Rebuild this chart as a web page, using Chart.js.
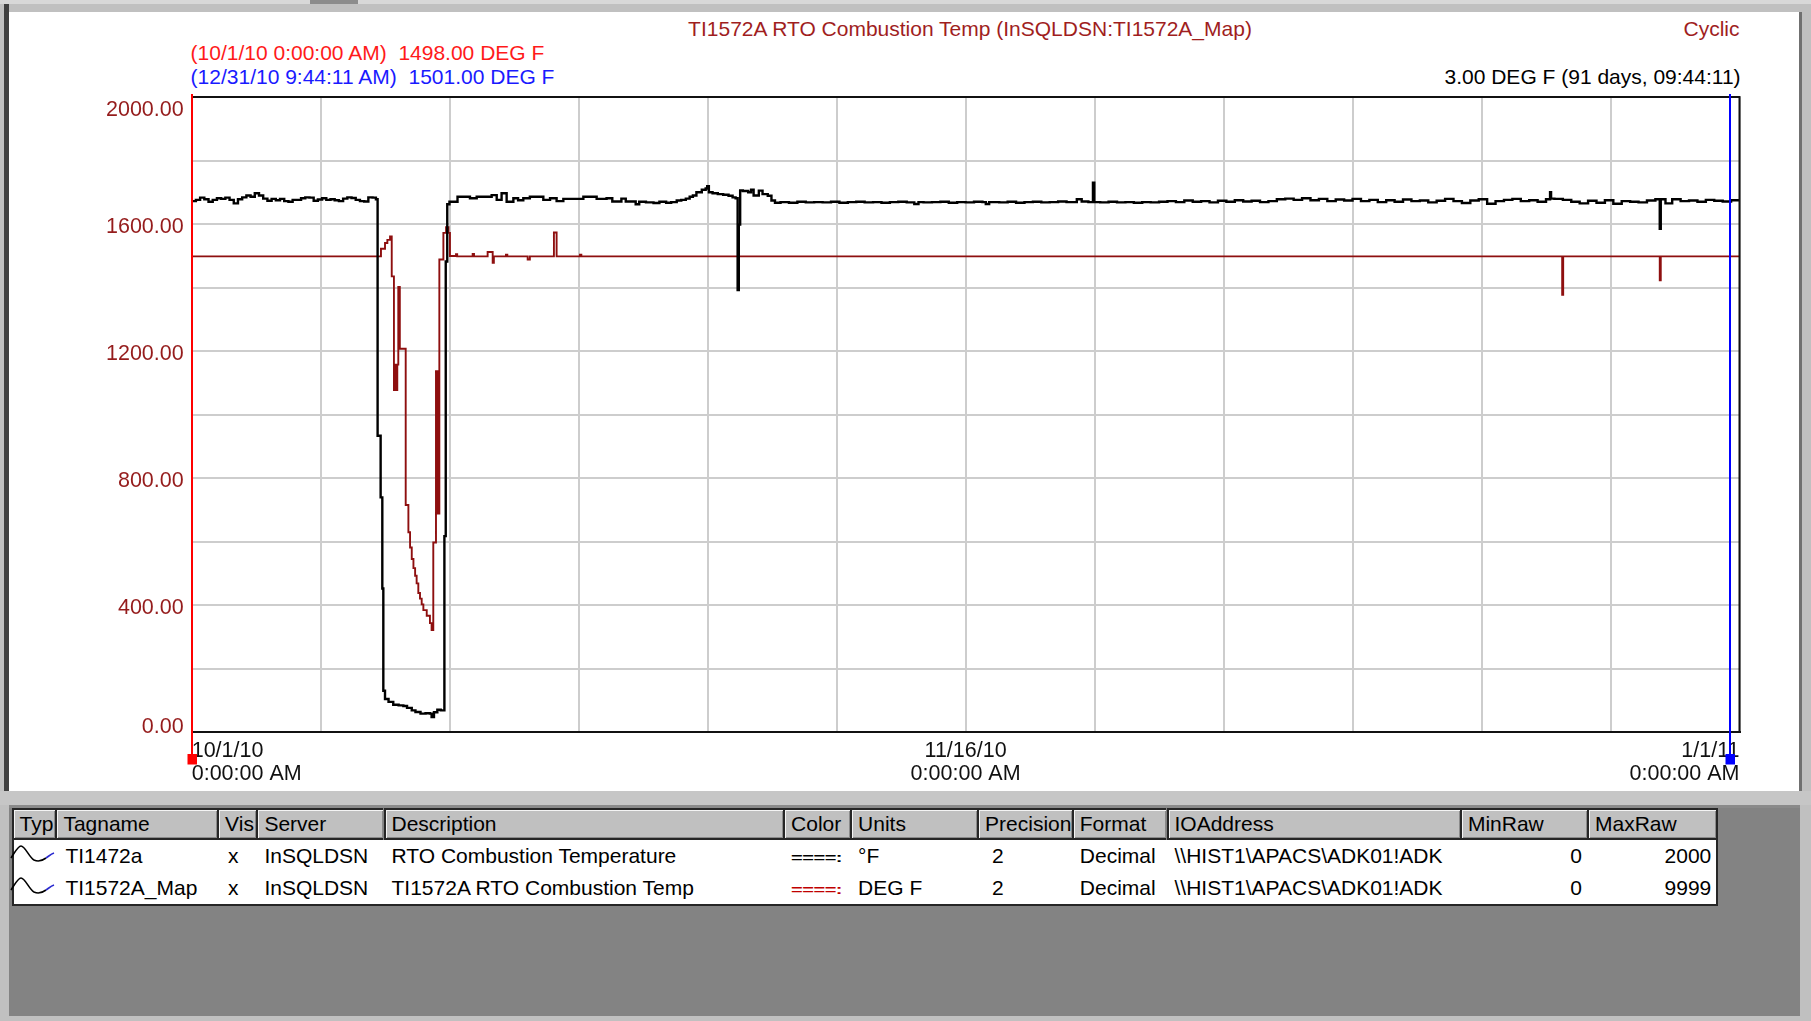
<!DOCTYPE html>
<html>
<head>
<meta charset="utf-8">
<script src="https://cdn.jsdelivr.net/npm/chart.js@4.4.1/dist/chart.umd.min.js"></script>
<style>
html,body{margin:0;padding:0;}
body{width:1811px;height:1021px;overflow:hidden;background:#c0c0c0;position:relative;font-family:"Liberation Sans",Arial,sans-serif;}
.abs{position:absolute;}
#topstrip{left:0;top:0;width:1811px;height:4px;background:#d8d8d8;}
#tab1{left:310px;top:0;width:48px;height:4px;background:#8c8c8c;}
#panel{left:9px;top:12px;width:1790px;height:779px;background:#fff;}
#leftdark{left:4px;top:4px;width:5px;height:787px;background:#404040;}
#rightdark{left:1799px;top:12px;width:3px;height:779px;background:#707070;}
#sep{left:0;top:791px;width:1811px;height:14px;background:#c6c6c6;}
#sepline{left:9px;top:805px;width:1791px;height:3px;background:#8a8a8a;}
#lower{left:9px;top:808px;width:1791px;height:208px;background:#838383;}
.txt{position:absolute;font-size:21px;line-height:24px;white-space:pre;}
.cell{position:absolute;box-sizing:border-box;font-size:21px;white-space:nowrap;overflow:hidden;color:#000;}
.hd{background:#c0c0c0;border-top:2px solid #262626;border-left:2px solid #262626;border-bottom:2px solid #262626;height:32px;line-height:28px;padding-left:6px;box-shadow:inset 1px 1px 0 #f4f4f4, inset -1px -1px 0 #8a8a8a;}
.rw{height:32px;line-height:32px;padding-left:8px;}
.sw{display:inline-block;font-weight:bold;font-size:20px;letter-spacing:-0.5px;transform:scaleY(0.62);transform-origin:50% 60%;}
#canvasWrap{position:absolute;left:0;top:0;width:1811px;height:1021px;}
</style>
</head>
<body>
<div class="abs" id="topstrip"></div>
<div class="abs" id="tab1"></div>
<div class="abs" id="leftdark"></div>
<div class="abs" id="panel"></div>
<div class="abs" id="rightdark"></div>
<div class="abs" id="sep"></div>
<div class="abs" id="sepline"></div>
<div class="abs" id="lower"></div>

<div class="txt" style="left:970px;top:17px;transform:translateX(-50%);color:#a01e1e;">TI1572A RTO Combustion Temp (InSQLDSN:TI1572A_Map)</div>
<div class="txt" style="right:71.5px;top:17px;color:#a01e1e;">Cyclic</div>
<div class="txt" style="left:190.6px;top:41px;color:#ff1a1a;">(10/1/10 0:00:00 AM)  1498.00 DEG F</div>
<div class="txt" style="left:190.6px;top:65.4px;color:#1a1aff;">(12/31/10 9:44:11 AM)  1501.00 DEG F</div>
<div class="txt" style="right:70.4px;top:65.4px;color:#000;">3.00 DEG F (91 days, 09:44:11)</div>

<div id="table"></div>

<div id="canvasWrap"><canvas id="c" width="1811" height="1021"></canvas></div>

<script>
// ---------------- DATA (days since 10/1/10 0:00:00 AM, degrees F) ----------------
const blackDays = [
  0, 0.25, 0.5, 0.75, 1, 1.25, 1.5, 1.75, 2, 2.25,
  2.5, 2.75, 3, 3.25, 3.5, 3.75, 4, 4.25, 4.5, 4.75,
  5, 5.25, 5.5, 5.75, 6, 6.25, 6.5, 6.75, 7, 7.25,
  7.5, 7.75, 8, 8.25, 8.5, 8.75, 9, 9.25, 9.5, 9.75,
  10, 10.25, 10.5, 10.75, 10.95, 11.05, 11.23, 11.33, 11.39, 11.49,
  11.7, 11.98, 12.3, 12.58, 12.8, 13.08, 13.3, 13.6, 13.9, 14.16,
  14.26, 14.4, 14.6, 14.8, 15.02, 15.1, 15.19, 15.32, 15.8, 16.15,
  16.54, 16.94, 17.53, 17.83, 18.13, 18.42, 18.72, 19.12, 19.4, 19.71,
  20.1, 20.5, 20.9, 21.3, 21.69, 22.09, 22.88, 23.28, 24.07, 24.66,
  25, 25.54, 25.8, 26.39, 26.6, 27, 27.45, 27.8, 28.2, 28.5,
  28.83, 29.1, 29.37, 29.6, 29.79, 30, 30.32, 30.55, 30.64, 30.74,
  30.96, 31.27, 31.59, 31.91, 32.15, 32.33, 32.45, 32.52, 32.6, 32.76,
  33.08, 33.25, 33.4, 33.71, 33.93, 34.24, 34.46, 34.67, 35, 35.5,
  36, 36.5, 37, 37.5, 38, 38.5, 39, 39.5, 40, 40.5,
  41, 41.5, 42, 42.5, 42.95, 43.2, 43.5, 44, 44.5, 45,
  45.5, 46, 46.5, 47, 47.2, 47.4, 48, 48.5, 49, 49.5,
  50, 50.5, 51, 51.5, 52, 52.61, 52.9, 53.3, 53.57, 53.65,
  54, 54.5, 55, 55.5, 56, 56.5, 57, 57.5, 58, 58.5,
  59, 59.5, 60, 60.5, 61, 61.5, 62, 62.5, 63, 63.5,
  64, 64.5, 65, 65.5, 66, 66.5, 67, 67.5, 68, 68.5,
  69, 69.5, 70, 70.5, 71, 71.5, 72, 72.5, 73, 73.5,
  74, 74.5, 75, 75.5, 76, 76.5, 77, 77.5, 78, 78.5,
  79, 79.5, 80, 80.5, 80.74, 80.8, 81, 81.5, 82, 82.5,
  83, 83.5, 84, 84.5, 85, 85.5, 86, 86.5, 87, 87.26,
  87.32, 87.6, 88, 88.5, 89, 89.5, 90, 90.5, 91, 91.5,
  92
];
const blackTemps = [
  1672, 1676, 1683, 1678, 1670, 1676, 1681, 1679, 1683, 1676,
  1665, 1678, 1684, 1690, 1686, 1697, 1690, 1680, 1673, 1679,
  1675, 1679, 1672, 1670, 1676, 1676, 1681, 1684, 1683, 1673,
  1677, 1681, 1676, 1678, 1675, 1672, 1680, 1684, 1682, 1676,
  1672, 1671, 1684, 1683, 1678, 933, 739, 452, 130, 104,
  95, 86, 84, 82, 76, 68, 63, 58, 59, 58,
  47, 62, 70, 68, 617, 1482, 1662, 1670, 1686, 1686,
  1681, 1686, 1686, 1691, 1676, 1697, 1670, 1681, 1675, 1681,
  1686, 1686, 1676, 1681, 1672, 1679, 1679, 1686, 1679, 1681,
  1671, 1680, 1671, 1662, 1670, 1668, 1666, 1670, 1667, 1669,
  1674, 1676, 1680, 1686, 1690, 1700, 1708, 1712, 1719, 1700,
  1697, 1694, 1692, 1689, 1684, 1681, 1392, 1598, 1706, 1704,
  1700, 1708, 1690, 1705, 1694, 1689, 1674, 1667, 1669, 1667,
  1670, 1668, 1669, 1668, 1670, 1667, 1669, 1670, 1668, 1669,
  1667, 1669, 1670, 1668, 1663, 1669, 1668, 1669, 1670, 1667,
  1669, 1668, 1670, 1669, 1663, 1669, 1668, 1670, 1667, 1669,
  1670, 1668, 1669, 1671, 1669, 1678, 1671, 1669, 1730, 1669,
  1668, 1670, 1668, 1669, 1667, 1669, 1668, 1670, 1672, 1669,
  1674, 1670, 1672, 1668, 1673, 1670, 1675, 1671, 1673, 1669,
  1672, 1678, 1680, 1676, 1681, 1675, 1679, 1672, 1677, 1674,
  1679, 1672, 1676, 1669, 1675, 1670, 1677, 1672, 1674, 1668,
  1673, 1679, 1672, 1666, 1674, 1678, 1664, 1672, 1676, 1679,
  1672, 1675, 1670, 1678, 1700, 1680, 1679, 1676, 1670, 1665,
  1673, 1667, 1675, 1664, 1672, 1670, 1668, 1674, 1678, 1585,
  1678, 1665, 1678, 1672, 1674, 1670, 1676, 1673, 1671, 1675,
  1672
];
const redDays = [
  0, 11.2, 11.25, 11.49, 11.63, 11.79, 11.89, 12.02, 12.08, 12.14,
  12.22, 12.28, 12.31, 12.34, 12.37, 12.72, 12.88, 12.98, 13.08, 13.18,
  13.28, 13.37, 13.47, 13.57, 13.67, 13.77, 13.97, 14.16, 14.26, 14.36,
  14.52, 14.55, 14.58, 14.62, 14.65, 14.68, 14.72, 14.96, 15.12, 15.26,
  15.35, 15.71, 15.78, 16.7, 16.78, 17.59, 17.89, 17.96, 18.68, 18.76,
  19.97, 20.1, 21.53, 21.69, 23.08, 23.16, 81.46, 81.52, 87.26, 87.32,
  92
];
const redTemps = [
  1498, 1498, 1522, 1540, 1550, 1561, 1435, 1077, 1157, 1077,
  1157, 1402, 1207, 1402, 1207, 715, 629, 581, 545, 516,
  492, 468, 438, 420, 402, 384, 366, 343, 321, 597,
  1136, 688, 1136, 688, 1136, 688, 1488, 1572, 1590, 1572,
  1499, 1505, 1498, 1506, 1498, 1512, 1478, 1498, 1503, 1498,
  1488, 1498, 1573, 1498, 1503, 1498, 1377, 1498, 1423, 1498,
  1501
];
const seriesNames = ['TI1472a', 'TI1572A_Map'];
const cursorDays = [0, 91.406];           // 10/1/10 0:00:00 AM and 12/31/10 9:44:11 AM
const xSpanDays = 92;
const xGridDivisions = 12;
const xLabelDays = [0, 46, 92];
const xTickLabels = [['10/1/10', '0:00:00 AM'], ['11/16/10', '0:00:00 AM'], ['1/1/11', '0:00:00 AM']];
const yMin = 0, yMax = 2000, yGridStep = 200, yLabelStep = 400;

// ---------------- TABLE (tag list) ----------------
const colEdges = [11.5, 55.4, 217.1, 256.4, 383.5, 783.1, 850.1, 977.1, 1071.8, 1166.5, 1459.9, 1587, 1716.3];
const headers = ['Typ', 'Tagname', 'Vis', 'Server', 'Description', 'Color', 'Units', 'Precision', 'Format', 'IOAddress', 'MinRaw', 'MaxRaw'];
const rows = [
  ['', 'TI1472a', 'x', 'InSQLDSN', 'RTO Combustion Temperature', '====:', '\u00B0F', '2', 'Decimal', '\\\\HIST1\\APACS\\ADK01!ADK', '0', '2000'],
  ['', 'TI1572A_Map', 'x', 'InSQLDSN', 'TI1572A RTO Combustion Temp', '====:', 'DEG F', '2', 'Decimal', '\\\\HIST1\\APACS\\ADK01!ADK', '0', '9999']
];
const colorSwatch = ['#000000', '#c00000'];
(function buildTable() {
  const t = document.getElementById('table');
  const top0 = 808, rowH = 32;
  headers.forEach((h, i) => {
    const d = document.createElement('div');
    d.className = 'cell hd';
    d.style.left = colEdges[i] + 'px';
    d.style.top = top0 + 'px';
    d.style.width = (colEdges[i + 1] - colEdges[i]) + 'px';
    d.textContent = h;
    t.appendChild(d);
  });
  const body = document.createElement('div');
  body.style.cssText = 'position:absolute;left:' + colEdges[0] + 'px;top:' + (top0 + rowH) + 'px;width:' +
    (colEdges[colEdges.length - 1] - colEdges[0] + 2) + 'px;height:' + (rowH * 2 + 2) +
    'px;background:#fff;box-sizing:border-box;border-left:2px solid #262626;border-right:2px solid #262626;border-bottom:2px solid #262626;';
  t.appendChild(body);
  const rightHdr = document.createElement('div');
  rightHdr.style.cssText = 'position:absolute;left:' + colEdges[colEdges.length - 1] + 'px;top:' + top0 + 'px;width:2px;height:' + rowH + 'px;background:#262626;';
  t.appendChild(rightHdr);
  rows.forEach((r, ri) => {
    r.forEach((v, i) => {
      const d = document.createElement('div');
      d.className = 'cell rw';
      const w = colEdges[i + 1] - colEdges[i];
      d.style.left = colEdges[i] + 'px';
      d.style.top = (top0 + rowH * (ri + 1)) + 'px';
      d.style.width = w + 'px';
      if (i === 0) {
        d.style.overflow = 'visible';
        d.style.paddingLeft = '0px';
        d.innerHTML = '<svg width="48" height="32" style="position:absolute;left:-2px;top:0"><path d="M1 18 C 5 12, 8 6, 11 6 C 15 6, 19 17, 24 20 C 28 22, 32 21, 36 18" stroke="#000" stroke-width="1.6" fill="none"/><path d="M36 18 C 39 16, 41 14, 44 13" stroke="#2a2ad0" stroke-width="1.6" fill="none"/></svg>';
      } else if (i === 5) {
        const s = document.createElement('span');
        s.className = 'sw';
        s.style.color = colorSwatch[ri];
        s.textContent = v;
        d.appendChild(s);
      } else {
        d.textContent = v;
      }
      if (i === 1) d.style.paddingLeft = '10px';
      if (i === 2) d.style.paddingLeft = '11px';
      if (i === 7) d.style.paddingLeft = '15px';
      if (i === 10 || i === 11) { d.style.textAlign = 'right'; d.style.paddingLeft = '0'; d.style.paddingRight = '5px'; }
      t.appendChild(d);
    });
  });
})();

// ---------------- CHART ----------------
Chart.defaults.font.family = '"Liberation Sans", Arial, sans-serif';

const frameAndCursors = {
  id: 'frameAndCursors',
  beforeDraw(chart) {
    // nudge y labels as in the reference and keep the extreme ones inside the plot band
    const s = chart.scales.y, a = chart.chartArea;
    if (!s || typeof s.getLabelItems !== 'function') return;
    try {
      const items = s.getLabelItems(a);
      items.forEach(it => {
        const tr = it && it.options && it.options.translation;
        if (!tr) return;
        tr[1] += 2.8;
        if (tr[1] < a.top + 13.5) tr[1] = a.top + 13.5;
        if (tr[1] > a.bottom - 4.5) tr[1] = a.bottom - 4.5;
      });
    } catch (e) {}
  },
  afterDatasetsDraw(chart) {
    const ctx = chart.ctx, a = chart.chartArea, xs = chart.scales.x;
    ctx.save();
    ctx.strokeStyle = '#111';
    ctx.lineWidth = 2;
    ctx.beginPath();
    ctx.moveTo(a.left, a.top);
    ctx.lineTo(a.right, a.top);
    ctx.lineTo(a.right, a.bottom);
    ctx.stroke();
    const colors = ['#ff0000', '#0000ff'];
    cursorDays.forEach((d, i) => {
      const x = Math.round(xs.getPixelForValue(d));
      ctx.strokeStyle = colors[i];
      ctx.lineWidth = 2;
      ctx.beginPath();
      ctx.moveTo(x, a.top - 3);
      ctx.lineTo(x, a.bottom + 24);
      ctx.stroke();
      ctx.fillStyle = colors[i];
      ctx.fillRect(x - 4.5, a.bottom + 22, 9.5, 10.5);
    });
    ctx.restore();
  }
};

new Chart(document.getElementById('c'), {
  type: 'line',
  data: {
    datasets: [
      {
        label: seriesNames[0],
        data: blackDays.map((d, i) => ({ x: d, y: blackTemps[i] })),
        borderColor: '#000000',
        borderWidth: 2.4,
        pointRadius: 0,
        stepped: true,
        fill: false
      },
      {
        label: seriesNames[1],
        data: redDays.map((d, i) => ({ x: d, y: redTemps[i] })),
        borderColor: '#8e0f0f',
        borderWidth: 1.9,
        pointRadius: 0,
        stepped: true,
        fill: false
      }
    ]
  },
  options: {
    responsive: false,
    animation: false,
    devicePixelRatio: 1,
    layout: { padding: { left: 0, top: 97, right: 71.5, bottom: 239 } },
    plugins: { legend: { display: false }, tooltip: { enabled: false }, title: { display: false } },
    scales: {
      x: {
        type: 'linear',
        min: 0,
        max: xSpanDays,
        afterFit(s) { s.height = 50; },
        afterBuildTicks(s) {
          const t = [];
          for (let i = 0; i <= xGridDivisions; i++) t.push({ value: i * xSpanDays / xGridDivisions });
          s.ticks = t;
        },
        grid: { color: '#cdcdcd', lineWidth: 2, drawTicks: false },
        border: { display: true, color: '#111', width: 2 },
        ticks: {
          autoSkip: false,
          maxRotation: 0,
          minRotation: 0,
          align: 'inner',
          padding: 8,
          color: '#111',
          font: { size: 21.5, lineHeight: 1.07 },
          callback(value) {
            const k = xLabelDays.findIndex(d => Math.abs(d - value) < 1e-6);
            return k >= 0 ? xTickLabels[k] : '';
          }
        }
      },
      y: {
        type: 'linear',
        min: yMin,
        max: yMax,
        afterFit(s) { s.width = 191.7; },
        grid: { color: '#cdcdcd', lineWidth: 2, drawTicks: false },
        border: { display: false },
        ticks: {
          stepSize: yGridStep,
          padding: 8,
          color: '#951c1c',
          font: { size: 21.5 },
          callback(value) { return value % yLabelStep === 0 ? value.toFixed(2) : ''; }
        }
      }
    }
  },
  plugins: [frameAndCursors]
});
</script>
</body>
</html>
